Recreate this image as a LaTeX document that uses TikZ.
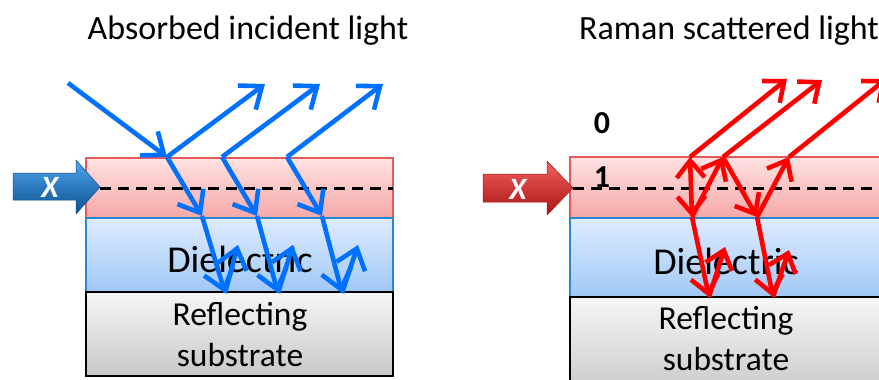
\documentclass[tikz,border=0pt]{standalone}
\usepackage{fontspec}
\setmainfont{Carlito}
\usetikzlibrary{arrows.meta}
\definecolor{rayblue}{RGB}{0,112,255}
\definecolor{rayred}{RGB}{255,0,0}
\definecolor{redtop}{RGB}{255,226,226}
\definecolor{redbot}{RGB}{246,168,168}
\definecolor{redline}{RGB}{228,90,90}
\definecolor{dieltop}{RGB}{222,236,255}
\definecolor{dielbot}{RGB}{160,200,246}
\definecolor{dielline}{RGB}{40,135,210}
\definecolor{subtop}{RGB}{246,246,246}
\definecolor{subbot}{RGB}{200,200,200}
\definecolor{xbluetop}{RGB}{80,165,235}
\definecolor{xbluebot}{RGB}{10,80,145}
\definecolor{xredtop}{RGB}{240,95,95}
\definecolor{xredbot}{RGB}{170,20,20}
\tikzset{
  layer/.style={draw, line width=1.2pt, anchor=north west, inner sep=0pt, outer sep=0pt},
  redlayer/.style={layer, draw=redline, top color=redtop, bottom color=redbot},
  diellayer/.style={layer, draw=dielline, top color=dieltop, bottom color=dielbot},
  sublayer/.style={layer, draw=black, top color=subtop, bottom color=subbot},
  dashline/.style={line width=3pt, dash pattern=on 11pt off 7pt},
  bray/.style={draw=rayblue, line width=4.6pt, -{Straight Barb[length=19pt,width=30pt]}},
  rray/.style={draw=rayred, line width=4.6pt, -{Straight Barb[length=17pt,width=28pt]}},
  rrayboth/.style={draw=rayred, line width=4.6pt, {Straight Barb[length=17pt,width=28pt]}-{Straight Barb[length=17pt,width=28pt]}},
  title/.style={font=\fontsize{34}{40}\selectfont, inner sep=0pt},
  dieltext/.style={font=\fontsize{38}{44}\selectfont, inner sep=0pt},
  subtext/.style={font=\fontsize{33.5}{41}\selectfont, align=center, inner sep=0pt},
  xlabel/.style={font=\fontsize{31}{34}\selectfont\bfseries\itshape, text=white, inner sep=0pt},
  numlabel/.style={font=\fontsize{32}{36}\selectfont\bfseries, inner sep=0pt},
}
\begin{document}
\begin{tikzpicture}[x=1pt,y=-1pt]
\useasboundingbox (0,0) rectangle (879,380);
\clip (0,0) rectangle (879,380);

% ---------- titles ----------
\node[title, anchor=base] (titleL) at (248,39) {Absorbed incident light};
\node[title, anchor=base west] (titleR) at (579,39) {Raman scattered light};

% ---------- left stack ----------
\node[redlayer, minimum width=307pt, minimum height=60pt] (redL) at (86,158) {};
\node[diellayer, minimum width=307pt, minimum height=74pt] (dielL) at (86,218) {};
\node[sublayer, minimum width=307pt, minimum height=84pt] (subL) at (86,292) {};

% ---------- right stack ----------
\node[redlayer, minimum width=330pt, minimum height=61pt] (redR) at (570,157) {};
\node[diellayer, minimum width=330pt, minimum height=79pt] (dielR) at (570,218) {};
\node[sublayer, minimum width=330pt, minimum height=100pt] (subR) at (570,297) {};

% ---------- X arrows ----------
\coordinate (xtipL) at (100,187);
\path[top color=xbluetop, bottom color=xbluebot, draw=xbluebot, line width=0.5pt]
  (13,173) -- (76,173) -- (76,160) -- (xtipL) -- (76,214) -- (76,200) -- (13,200) -- cycle;
\node[xlabel] (xL) at (50,187) {X};

\coordinate (xtipR) at (573,188);
\path[top color=xredtop, bottom color=xredbot, draw=xredbot, line width=0.5pt]
  (483,174) -- (547,174) -- (547,161) -- (xtipR) -- (547,215) -- (547,202) -- (483,202) -- cycle;
\node[xlabel] (xR) at (518,189) {X};

% ---------- dashed lines ----------
\coordinate (dashLend) at (393,188);
\coordinate (dashRend) at (879,188);
\draw[dashline] (xtipL |- dashLend) -- (dashLend);
\draw[dashline] (xtipR) -- (dashRend);

% ---------- labels ----------
\node[numlabel] (zero) at (602,123) {0};
\node[numlabel] (one) at (602,177) {1};

\node[dieltext] (dieltL) at (240,259) {Dielectric};
\node[subtext] (subtL) at (240,335) {Reflecting\\substrate};
\node[dieltext] (dieltR) at (726,261) {Dielectric};
\node[subtext] (subtR) at (726,339) {Reflecting\\substrate};

% ---------- left rays ----------
\coordinate (I0) at (68,83);
\coordinate (P1) at (167,157);
\coordinate (P2) at (222,157);
\coordinate (P3) at (287,157);
\coordinate (U1) at (265,84);
\coordinate (U2) at (320,84);
\coordinate (U3) at (383,84);
\coordinate (Q1) at (202,216);
\coordinate (Q2) at (257,216);
\coordinate (Q3) at (322,216);
\coordinate (R1) at (225,293);
\coordinate (R2) at (278,293);
\coordinate (R3) at (342,293);
\coordinate (S1) at (238,245);
\coordinate (S2) at (293,245);
\coordinate (S3) at (358,245);

\draw[bray] (I0) -- (P1);
\draw[bray] (P1) -- (U1);
\draw[bray] (P2) -- (U2);
\draw[bray] (P3) -- (U3);
\draw[bray] (P1) -- (Q1);
\draw[bray] (P2) -- (Q2);
\draw[bray] (P3) -- (Q3);
\draw[bray] (Q1) -- (R1);
\draw[bray] (Q2) -- (R2);
\draw[bray] (Q3) -- (R3);
\draw[bray] (R1) -- (S1);
\draw[bray] (R2) -- (S2);
\draw[bray] (R3) -- (S3);

% ---------- right rays ----------
\coordinate (A) at (690,157);
\coordinate (B) at (723,157);
\coordinate (C) at (789,157);
\coordinate (D) at (692,217);
\coordinate (E) at (757,217);
\coordinate (UA) at (787,79);
\coordinate (UB) at (822,80);
\coordinate (UC) at (886,79);
\coordinate (F) at (709,297);
\coordinate (G) at (725,247);
\coordinate (H) at (773,297);
\coordinate (K) at (789,250);

\draw[rray] (A) -- (UA);
\draw[rray] (B) -- (UB);
\draw[rray] (C) -- (UC);
\draw[rrayboth] (A) -- (D);
\draw[rray] (D) -- (B);
\draw[rray] (B) -- (E);
\draw[rray] (E) -- (C);
\draw[rray] (D) -- (F);
\draw[rray] (F) -- (G);
\draw[rray] (E) -- (H);
\draw[rray] (H) -- (K);
\end{tikzpicture}
\end{document}
